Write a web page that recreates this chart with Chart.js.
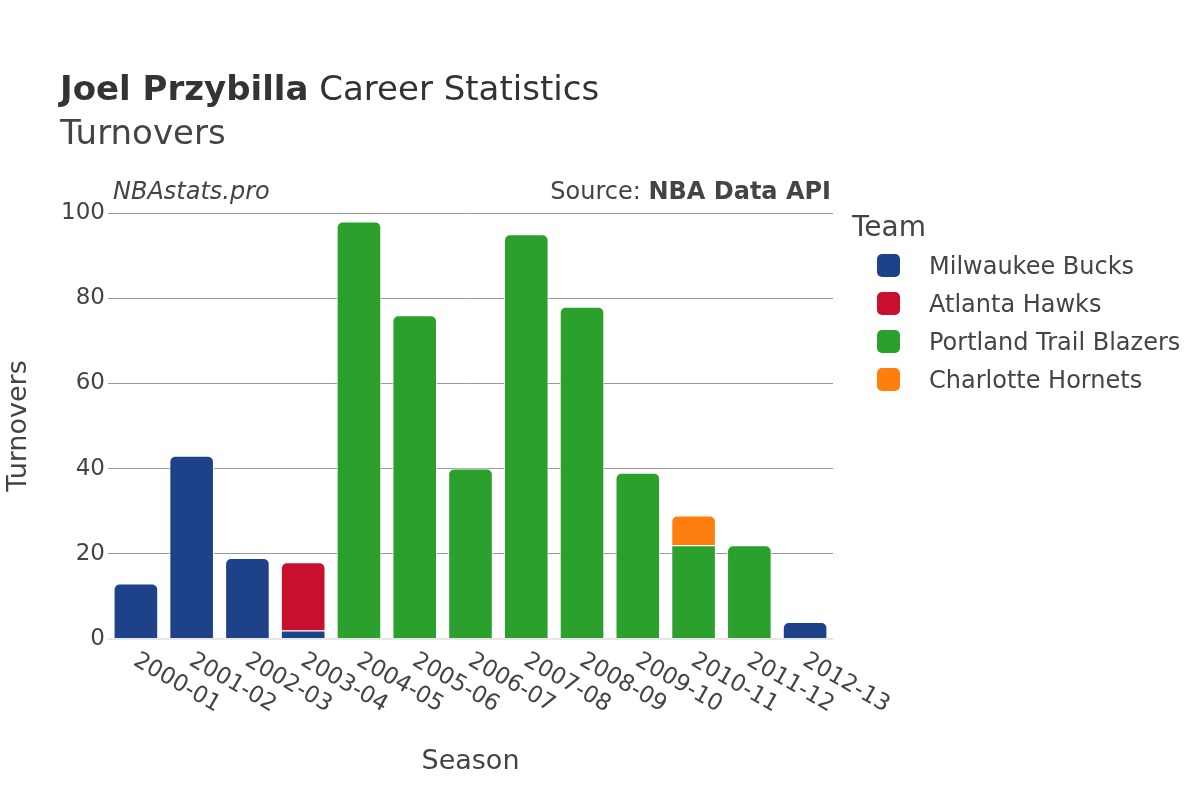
<!DOCTYPE html>
<html>
<head>
<meta charset="utf-8">
<script src="https://cdn.jsdelivr.net/npm/chart.js@4/dist/chart.umd.min.js"></script>
<style>
  body { margin: 0; background: #fff; font-family: "DejaVu Sans", sans-serif; color: #444; }
  #wrap { position: relative; width: 1200px; height: 800px; }
  canvas { position: absolute; left: 0; top: 0; }
  .txt { position: absolute; white-space: nowrap; }
  #title { left: 60px; top: 68px; font-size: 34px; color: #333; }
  #subtitle { left: 60px; top: 112px; font-size: 34px; color: #444; }
  #brand { left: 113px; top: 177px; font-size: 24px; font-style: italic; color: #444; }
  #source { right: 369px; top: 177px; font-size: 24px; color: #444; }
  #legend { left: 852px; top: 210px; }
  #legend .head { font-size: 28px; color: #444; margin-bottom: 4px; }
  #legend .item { position: relative; height: 38px; font-size: 24px; line-height: 38px; padding-left: 77px; color: #444; }
  #legend .box { position: absolute; left: 25px; top: 7px; width: 23px; height: 23px; border-radius: 5px; }
</style>
</head>
<body>
<div id="wrap">
  <canvas id="turnoversChart" width="1200" height="800"></canvas>
  <div class="txt" id="title"><b>Joel Przybilla</b> Career Statistics</div>
  <div class="txt" id="subtitle">Turnovers</div>
  <div class="txt" id="brand">NBAstats.pro</div>
  <div class="txt" id="source">Source: <b>NBA Data API</b></div>
  <div class="txt" id="legend"></div>
</div>
<script>
// values

var seasons = ["2000-01", "2001-02", "2002-03", "2003-04", "2004-05", "2005-06", "2006-07",
               "2007-08", "2008-09", "2009-10", "2010-11", "2011-12", "2012-13"];

var bucks     = [13, 43, 19, 2, null, null, null, null, null, null, null, null, 4];
var hawks     = [null, null, null, 16, null, null, null, null, null, null, null, null, null];
var blazers   = [null, null, null, null, 98, 76, 40, 95, 78, 39, 22, 22, null];
var hornets   = [null, null, null, null, null, null, null, null, null, null, 7, null, null];

var teamNames  = ["Milwaukee Bucks", "Atlanta Hawks", "Portland Trail Blazers", "Charlotte Hornets"];
var teamColors = ["#1d428a", "#c8102e", "#2ca02c", "#ff7f0e"];
var yTicks = [0, 20, 40, 60, 80, 100];

var series = [bucks, hawks, blazers, hornets];
var datasets = [];
for (var t = 0; t < series.length; t++) {
    datasets.push({
        label: teamNames[t],
        data: series[t],
        backgroundColor: teamColors[t],
        borderColor: "#ffffff",
        borderWidth: 1,
        borderSkipped: "bottom",
        borderRadius: 6,
        barPercentage: 0.8,
        categoryPercentage: 1.0
    });
}

// legend as plain html
var legendBox = document.getElementById("legend");
var html = '<div class="head">Team</div>';
for (var t = 0; t < teamNames.length; t++) {
    html += '<div class="item"><span class="box" style="background:' + teamColors[t] + '"></span>' + teamNames[t] + '</div>';
}
legendBox.innerHTML = html;

// x tick labels drawn rotated clockwise, starting at the tick
var seasonLabels = {
    id: "seasonLabels",
    afterDraw: function (chart) {
        var ctx = chart.ctx;
        var xs = chart.scales.x;
        ctx.save();
        ctx.font = "23px 'DejaVu Sans'";
        ctx.fillStyle = "#444";
        ctx.textAlign = "left";
        ctx.textBaseline = "top";
        for (var i = 0; i < seasons.length; i++) {
            var px = xs.getPixelForValue(i);
            ctx.save();
            ctx.translate(px + 5, chart.chartArea.bottom + 10);
            ctx.rotate(Math.PI / 6);
            ctx.fillText(seasons[i], 0, 0);
            ctx.restore();
        }
        ctx.restore();
    }
};

var canvas = document.getElementById("turnoversChart");
var turnoversChart = new Chart(canvas, {
    type: "bar",
    data: { labels: seasons, datasets: datasets },
    options: {
        responsive: false,
        animation: false,
        devicePixelRatio: 1,
        layout: { padding: { top: 213, right: 367, bottom: 0, left: 0 } },
        plugins: {
            legend: { display: false },
            tooltip: { enabled: false }
        },
        scales: {
            x: {
                stacked: true,
                grid: { display: false },
                border: { display: false },
                ticks: { display: false },
                title: {
                    display: true,
                    text: "Season",
                    color: "#444",
                    font: { family: "DejaVu Sans", size: 27 },
                    padding: { top: 0, bottom: 22 }
                },
                afterFit: function (scale) { scale.height = 161; }
            },
            y: {
                stacked: true,
                min: 0,
                max: 100,
                afterBuildTicks: function (scale) {
                    scale.ticks = yTicks.map(function (v) { return { value: v }; });
                },
                grid: {
                    color: function (c) { return c.tick.value === 0 ? "#e6e6e6" : "#9a9a9a"; },
                    lineWidth: function (c) { return c.tick.value === 0 ? 2 : 1; },
                    drawTicks: false
                },
                border: { display: false },
                ticks: {
                    color: "#444",
                    font: { family: "DejaVu Sans", size: 23 },
                    padding: 3
                },
                title: {
                    display: true,
                    text: "Turnovers",
                    color: "#444",
                    font: { family: "DejaVu Sans", size: 27 },
                    padding: { top: 3, bottom: 0 }
                },
                afterFit: function (scale) { scale.width = 108; }
            }
        }
    },
    plugins: [seasonLabels]
});
</script>
</body>
</html>
